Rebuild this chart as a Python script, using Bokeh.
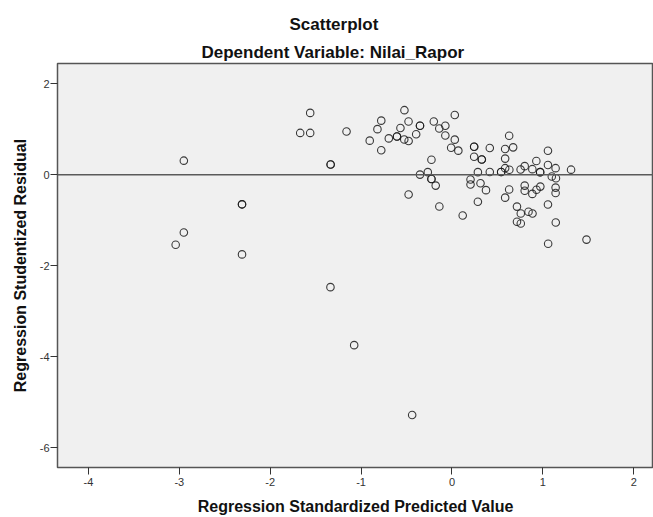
from bokeh.plotting import figure
from bokeh.models import Range1d, FixedTicker, Span, Title, ColumnDataSource
from bokeh.embed import file_html
from bokeh.resources import INLINE

title_main = "Scatterplot"
title_sub = "Dependent Variable: Nilai_Rapor"
x_label = "Regression Standardized Predicted Value"
y_label = "Regression Studentized Residual"

x_ticks = [-4, -3, -2, -1, 0, 1, 2]
x_tick_labels = ["-4", "-3", "-2", "-1", "0", "1", "2"]
y_ticks = [-6, -4, -2, 0, 2]
y_tick_labels = ["-6", "-4", "-2", "0", "2"]
ref_line_y = 0

predicted = [
    -3.04, -2.95, -2.95, -2.31, -2.31, -2.31, -1.67, -1.56, -1.56, -1.335,
    -1.335, -1.337, -1.16, -1.076, -0.438, -0.905, -0.778, -0.82, -0.778, -0.695,
    -0.605, -0.605, -0.567, -0.523, -0.525, -0.478, -0.477, -0.477, -0.394, -0.352,
    -0.352, -0.352, -0.266, -0.226, -0.226, -0.226, -0.179, -0.20, -0.14, -0.073,
    -0.073, -0.139, 0.031, 0.031, -0.009, 0.07, 0.118, 0.244, 0.244, 0.244,
    0.285, 0.204, 0.204, 0.285, 0.328, 0.328, 0.314, 0.374, 0.416, 0.416,
    0.541, 0.541, 0.585, 0.631, 0.585, 0.585, 0.673, 0.629, 0.629, 0.585,
    0.715, 0.757, 0.715, 0.757, 0.80, 0.80, 0.755, 0.80, 0.842, 0.886,
    0.884, 0.93, 0.972, 0.884, 0.928, 0.97, 0.97, 1.056, 1.056, 1.056,
    1.058, 1.098, 1.14, 1.144, 1.14, 1.14, 1.142, 1.31, 1.48,
]
residual = [
    -1.54, -1.27, 0.31, -0.65, -0.65, -1.75, 0.92, 1.36, 0.92, 0.225,
    0.225, -2.47, 0.95, -3.745, -5.28, 0.75, 1.19, 1.003, 0.54, 0.80,
    0.84, 0.84, 1.027, 1.42, 0.775, 1.17, 0.743, -0.433, 0.89, 1.077,
    1.077, 0.004, 0.058, 0.33, -0.093, -0.093, -0.238, 1.17, 1.018, 1.077,
    0.862, -0.697, 1.315, 0.772, 0.593, 0.53, -0.894, 0.615, 0.615, 0.395,
    0.058, -0.105, -0.213, -0.593, 0.336, 0.336, -0.185, -0.338, 0.59, 0.062,
    0.062, 0.062, 0.145, 0.11, 0.355, 0.567, 0.603, 0.857, -0.323, -0.503,
    -0.70, -0.85, -1.034, -1.07, -0.238, -0.352, 0.117, 0.19, -0.813, -0.85,
    -0.42, -0.33, -0.26, 0.123, 0.304, 0.058, 0.058, 0.527, 0.215, -0.653,
    -1.517, -0.037, 0.145, -0.078, -0.282, -0.40, -1.048, 0.112, -1.425,
]

FONT = "Liberation Sans"

p = figure(
    width=653, height=517,
    output_backend="svg", toolbar_location=None,
    x_range=Range1d(-4.34, 2.217), y_range=Range1d(-6.435, 2.446),
    min_border_left=57, min_border_right=0, min_border_top=63, min_border_bottom=50,
    background_fill_color="#F0F0F0", border_fill_color="white",
)
p.grid.visible = False
p.outline_line_color = "#555555"
p.outline_line_width = 1.5

for ax in (p.xaxis[0], p.yaxis[0]):
    ax.axis_line_color = None
    ax.major_tick_in = 0
    ax.major_tick_out = 7
    ax.major_tick_line_color = "#333333"
    ax.major_tick_line_width = 1
    ax.minor_tick_line_color = None
    ax.major_label_text_font = FONT
    ax.major_label_text_font_size = "11px"
    ax.major_label_text_color = "#333333"
    ax.axis_label_text_font = FONT
    ax.axis_label_text_font_size = "16px"
    ax.axis_label_text_font_style = "bold"
    ax.axis_label_text_color = "#111111"

p.xaxis.ticker = FixedTicker(ticks=x_ticks)
p.xaxis.major_label_overrides = dict(zip(x_ticks, x_tick_labels))
p.yaxis.ticker = FixedTicker(ticks=y_ticks)
p.yaxis.major_label_overrides = dict(zip(y_ticks, y_tick_labels))
p.xaxis.axis_label = x_label
p.yaxis.axis_label = y_label
p.xaxis.major_label_standoff = 3
p.yaxis.major_label_standoff = 1
p.xaxis.axis_label_standoff = 9
p.yaxis.axis_label_standoff = 8

p.add_layout(Span(location=ref_line_y, dimension="width",
                  line_color="#5a5a5a", line_width=1.5))

src = ColumnDataSource(dict(x=predicted, y=residual))
p.scatter("x", "y", source=src, marker="circle", size=7.5,
          fill_color=None, line_color="#1a1a1a", line_alpha=0.85, line_width=1.1)

p.add_layout(Title(text=title_sub, align="left", offset=144, standoff=3,
                   text_font=FONT, text_font_size="17px", text_font_style="bold",
                   text_color="#111111"), "above")
p.add_layout(Title(text=title_main, align="left", offset=232, standoff=11,
                   text_font=FONT, text_font_size="17px", text_font_style="bold",
                   text_color="#111111"), "above")

open("out.html", "w").write(file_html(p, INLINE))
